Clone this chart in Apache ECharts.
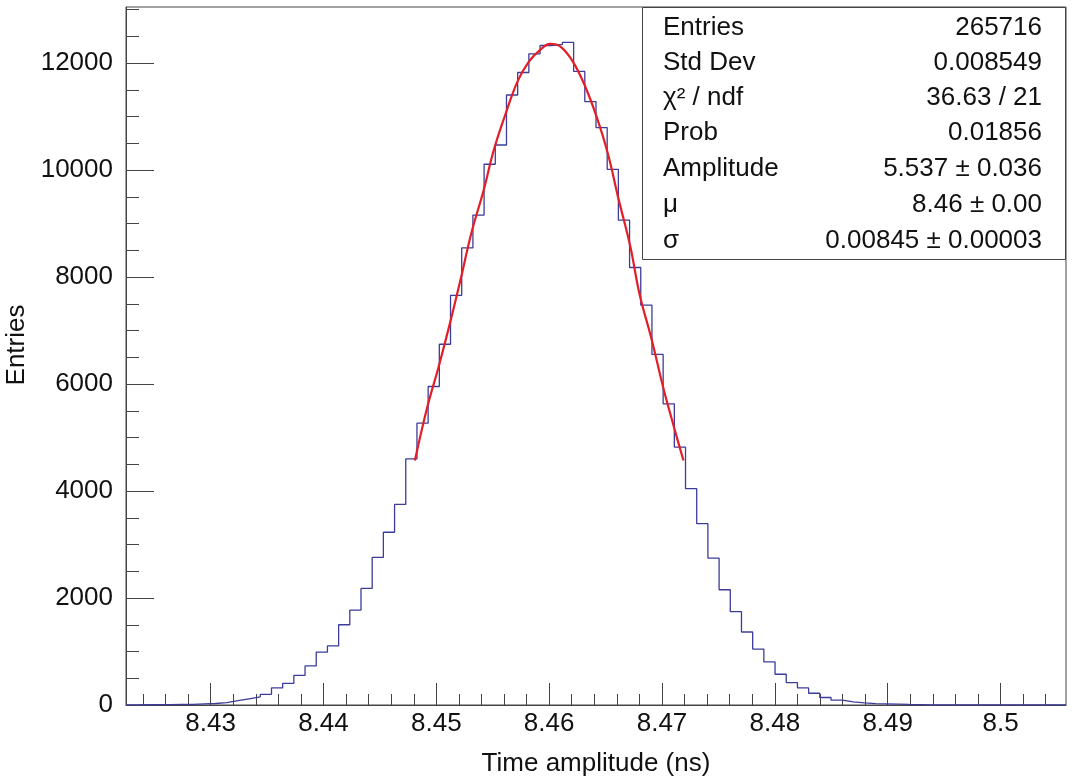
<!DOCTYPE html>
<html>
<head>
<meta charset="utf-8">
<title>Time amplitude</title>
<script src="https://cdn.jsdelivr.net/npm/echarts@6/dist/echarts.min.js"></script>
<style>
  html, body { margin: 0; padding: 0; background: #fff; }
  #chart { width: 1076px; height: 779px; }
</style>
</head>
<body>
<div id="chart"></div>
<script>
// histogram range (ns) and contents, 84 equal bins
const histMin = 8.4225
const histMax = 8.5058
const binCounts = [
  0, 5, 6, 8, 10, 12, 20, 28, 45, 80,
  115, 150, 200, 320, 405, 555, 730, 990, 1105, 1500,
  1775, 2180, 2760, 3230, 3750, 4600, 5270, 5955, 6745, 7660,
  8545, 9160, 10110, 10470, 11405, 11825, 12175, 12330, 12350, 12390,
  11845, 11280, 10795, 10015, 9065, 8180, 7475, 6555, 5630, 4820,
  4045, 3390, 2745, 2155, 1745, 1365, 1045, 805, 575, 420,
  320, 220, 140, 90, 60, 40, 25, 20, 15, 10,
  6, 0, 0, 0, 0, 0, 0, 0, 0, 0,
  0, 0, 0, 0
]

// gaussian fit curve
const fitX = [8.4481, 8.4492, 8.4502, 8.4512, 8.4522, 8.4531, 8.4542, 8.4551, 8.4562, 8.4572,
  8.4582, 8.4592, 8.4601, 8.4610, 8.4621, 8.4632, 8.4642, 8.4652, 8.4661, 8.4672,
  8.4680, 8.4691, 8.4701, 8.4711, 8.4719]
const fitY = [4570, 5570, 6320, 7130, 8000, 8820, 9630, 10380, 11090, 11660,
  12030, 12250, 12360, 12310, 12030, 11560, 11000, 10310, 9500, 8565,
  7690, 6820, 5940, 5165, 4570]

// axis ticks
const xTickLabels = ['8.43', '8.44', '8.45', '8.46', '8.47', '8.48', '8.49', '8.5']
const yTickValues = [0, 2000, 4000, 6000, 8000, 10000, 12000]
const yMax = 13050

// stats box
const statNames = ['Entries', 'Std Dev', 'χ² / ndf', 'Prob', 'Amplitude', 'μ', 'σ']
const statValues = ['265716', '0.008549', '36.63 / 21', '0.01856', '5.537 ± 0.036', '8.46 ± 0.00', '0.00845 ± 0.00003']

const font = 'Liberation Sans, Arial, Helvetica, sans-serif'
const frameColor = '#444'

const binWidth = (histMax - histMin) / binCounts.length
const histPoints = binCounts.map((c, i) => [histMin + i * binWidth, c])
histPoints.push([histMax, binCounts[binCounts.length - 1]])

const xMajor = xTickLabels.map(Number)
const xMinor = []
for (let i = 0; i <= 45; i++) {
  const v = Math.round((8.424 + i * 0.002) * 1000) / 1000
  if (v < histMax) xMinor.push(v)
}
const yMinor = []
for (let v = 500; v < yMax; v += 500) yMinor.push(v)

const fitPoints = fitX.map((x, i) => [x, fitY[i]])

const chart = echarts.init(document.getElementById('chart'), null, {renderer: 'canvas'})

const statTexts = []
const rowY = [27.5, 62.5, 97.5, 133, 169, 205, 241]
statNames.forEach((name, i) => {
  statTexts.push({
    type: 'text', x: 663, y: rowY[i], z: 11,
    style: {text: name, fontSize: 26, fontFamily: font, fill: '#111', verticalAlign: 'middle'}
  })
  statTexts.push({
    type: 'text', x: 1042, y: rowY[i], z: 11,
    style: {text: statValues[i], fontSize: 26, fontFamily: font, fill: '#111', align: 'right', verticalAlign: 'middle'}
  })
})

chart.setOption({
  animation: false,
  backgroundColor: '#fff',
  textStyle: {fontFamily: font},
  grid: {
    left: 126, right: 10, top: 7, bottom: 74,
    outerBoundsMode: 'none', containLabel: false,
    show: true, borderColor: frameColor, borderWidth: 1
  },
  xAxis: [{
    type: 'value', min: histMin, max: histMax,
    axisLine: {show: true, lineStyle: {color: frameColor}},
    axisTick: {show: true, inside: true, length: 22, customValues: xMajor, lineStyle: {color: frameColor}},
    axisLabel: {customValues: xMajor, fontSize: 26, color: '#111', margin: 6, formatter: v => String(v)},
    splitLine: {show: false},
    name: 'Time amplitude (ns)', nameLocation: 'middle', nameGap: 46,
    nameTextStyle: {fontSize: 26, color: '#111'}
  }, {
    type: 'value', min: histMin, max: histMax, position: 'bottom',
    axisLine: {show: false},
    axisTick: {show: true, inside: true, length: 11, customValues: xMinor, lineStyle: {color: frameColor}},
    axisLabel: {show: false},
    splitLine: {show: false}
  }],
  yAxis: [{
    type: 'value', min: 0, max: yMax,
    axisLine: {show: true, lineStyle: {color: frameColor}},
    axisTick: {show: true, inside: true, length: 28, customValues: yTickValues, lineStyle: {color: frameColor}},
    axisLabel: {customValues: yTickValues, fontSize: 26, color: '#111', margin: 13, formatter: v => String(v)},
    splitLine: {show: false},
    name: 'Entries', nameLocation: 'middle', nameGap: 94,
    nameTextStyle: {fontSize: 26, color: '#111', padding: [0, 0, 0, 22]}
  }, {
    type: 'value', min: 0, max: yMax, position: 'left',
    axisLine: {show: false},
    axisTick: {show: true, inside: true, length: 13, customValues: yMinor, lineStyle: {color: frameColor}},
    axisLabel: {show: false},
    splitLine: {show: false}
  }],
  series: [{
    name: 'histogram', type: 'line', step: 'end', data: histPoints,
    symbol: 'none', lineStyle: {color: '#3c3c9a', width: 1.3}, z: 3
  }, {
    name: 'fit', type: 'line', smooth: 0.4, data: fitPoints,
    symbol: 'none', lineStyle: {color: '#e31e26', width: 2.2}, z: 4
  }],
  graphic: [{
    type: 'rect', z: 10,
    shape: {x: 642.5, y: 7.5, width: 423, height: 252},
    style: {fill: '#fff', stroke: frameColor, lineWidth: 1}
  }].concat(statTexts)
})
</script>
</body>
</html>
